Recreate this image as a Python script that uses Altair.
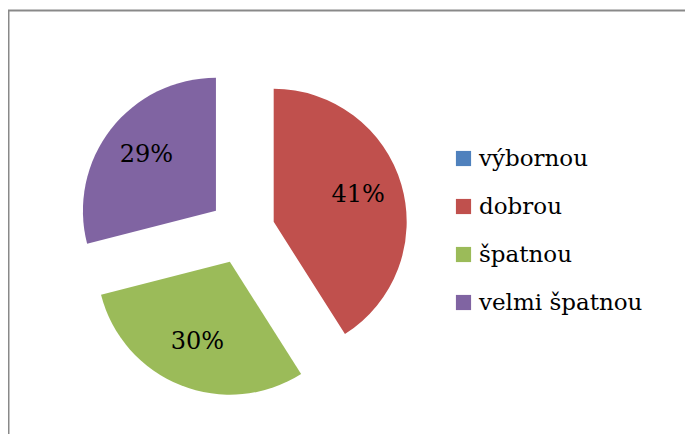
import altair as alt
import pandas as pd

categories = ["výbornou", "dobrou", "špatnou", "velmi špatnou"]
values = [0, 41, 30, 29]
colors = ["#4F81BD", "#C0504D", "#9BBB59", "#8064A2"]

df = pd.DataFrame({"cat": categories, "val": values, "order": list(range(len(categories)))})

W, H = 677, 426
CX, CY, D, R, LR = 234, 223, 33, 133, 88
FONT = "DejaVu Serif"

base = alt.Chart(df).transform_joinaggregate(
    total="sum(val)"
).transform_window(
    cum="sum(val)", sort=[alt.SortField("order")], frame=[None, 0]
).transform_calculate(
    start="2*PI*(datum.cum - datum.val)/datum.total",
    end="2*PI*datum.cum/datum.total",
).transform_calculate(
    mid="(datum.start + datum.end)/2",
).transform_calculate(
    px=f"{CX} + {D}*sin(datum.mid)",
    py=f"{CY} - {D}*cos(datum.mid)",
    pct="round(100*datum.val/datum.total) + '%'",
).transform_calculate(
    lx=f"datum.px + {LR}*sin(datum.mid)",
    ly=f"datum.py - {LR}*cos(datum.mid)",
)

arcs = base.mark_arc(radius=R, stroke=None).encode(
    x=alt.X("px:Q", scale=None),
    y=alt.Y("py:Q", scale=None),
    theta=alt.Theta("start:Q", scale=None),
    theta2=alt.Theta2("end:Q"),
    color=alt.Color(
        "cat:N",
        scale=alt.Scale(domain=categories, range=colors),
        sort=categories,
        legend=alt.Legend(
            title=None,
            orient="none",
            legendX=444,
            legendY=139,
            symbolType="square",
            symbolSize=230,
            symbolStrokeWidth=0,
            labelFont=FONT,
            labelFontSize=23,
            labelColor="#000000",
            labelOffset=4,
            rowPadding=24,
            padding=0,
            labelLimit=400,
        ),
    ),
)

labels = base.transform_filter("datum.val > 0").mark_text(
    font=FONT, fontSize=24, color="#000000", align="center", baseline="middle", dy=-2
).encode(
    x=alt.X("lx:Q", scale=None),
    y=alt.Y("ly:Q", scale=None),
    text="pct:N",
)

frame_data = alt.Data(values=[{"k": 1}])
left_line = alt.Chart(frame_data).mark_rule(color="#898989", strokeWidth=2).encode(
    x=alt.value(0.5), y=alt.value(2), y2=alt.value(H)
)
top_line = alt.Chart(frame_data).mark_rule(color="#898989", strokeWidth=2).encode(
    x=alt.value(0), x2=alt.value(W), y=alt.value(2.5)
)

chart = alt.layer(arcs, labels, left_line, top_line).properties(
    width=W, height=H, autosize=alt.AutoSizeParams(type="none"), padding=0
).configure_view(stroke=None)

chart.save("out.html", embed_options={"renderer": "svg", "actions": False})
